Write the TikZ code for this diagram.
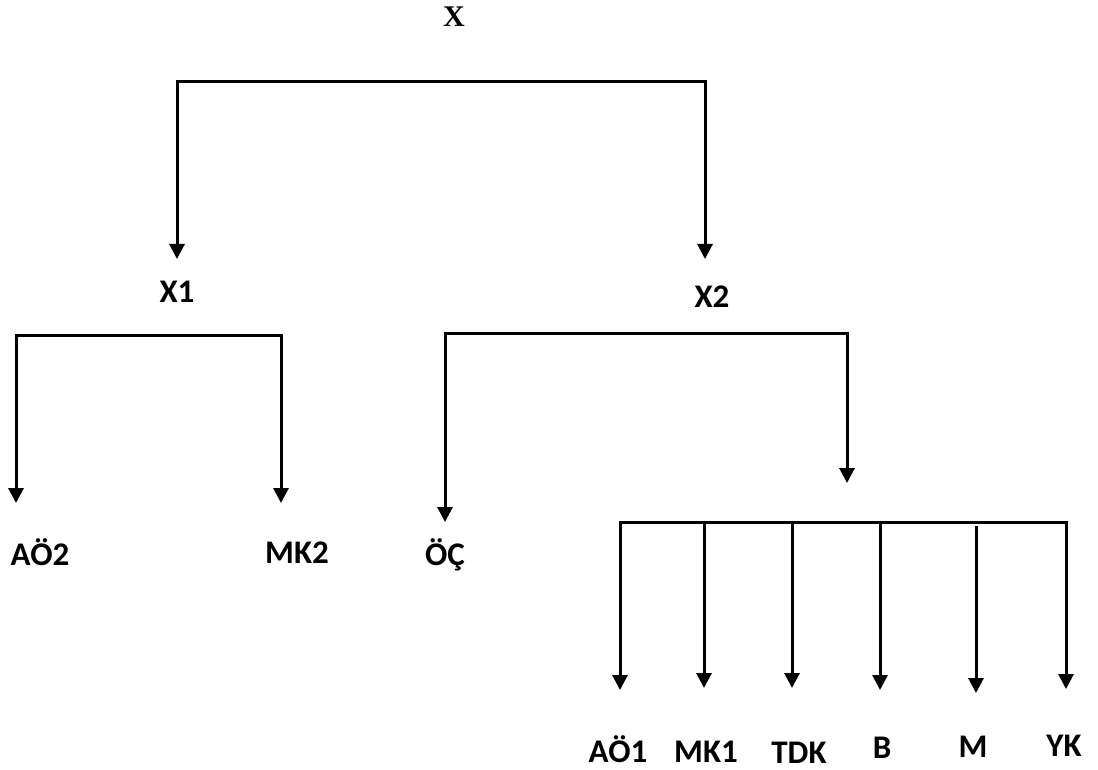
\documentclass[tikz,border=0pt]{standalone}
\usepackage{fontspec}
\newfontfamily\lblfont{Carlito}[UprightFont={* Bold}]
\newfontfamily\serfont{Liberation Serif}[UprightFont={* Bold}]
\usetikzlibrary{arrows.meta}
\begin{document}
\begin{tikzpicture}[x=1pt,y=-1pt,
  conn/.style={line width=3pt, line join=miter, line cap=butt},
  arr/.style={conn,-{Triangle[width=15pt,length=15pt]}},
  barr/.style={conn,{Triangle[width=15pt,length=15pt]}-{Triangle[width=15pt,length=15pt]}},
  lbl/.style={font=\fontsize{33}{40}\lblfont, anchor=base, inner sep=0pt},
  serlbl/.style={font=\fontsize{30}{36}\serfont, anchor=base, inner sep=0pt},
]
\useasboundingbox (0,0) rectangle (1098,770);

% labels
\node[serlbl] (X)   at (454,27)  {X};
\node[lbl] (X1)  at (177,302) {X1};
\node[lbl] (X2)  at (712,307) {X2};
\node[lbl] (AO2) at (40,565)  {AÖ2};
\node[lbl] (MK2) at (297,563) {MK2};
\node[lbl] (OC)  at (445,565) {ÖÇ};
\node[lbl] (AO1) at (618,762) {AÖ1};
\node[lbl] (MK1) at (706,762) {MK1};
\node[lbl] (TDK) at (799,763) {TDK};
\node[lbl] (B)   at (882,758) {B};
\node[lbl] (M)   at (973,757) {M};
\node[lbl] (YK)  at (1064,756) {YK};

% top bracket
\coordinate (tL) at (177,82);
\coordinate (tR) at (705,82);
\coordinate (tX1) at (177,259);
\coordinate (tX2) at (705,259);
\draw[barr] (tX1) -- (tL) -- (tR) -- (tX2);

% X1 bracket
\coordinate (aL) at (16,335);
\coordinate (aR) at (281,335);
\coordinate (tAO2) at (16,503);
\coordinate (tMK2) at (281,503);
\draw[barr] (tAO2) -- (aL) -- (aR) -- (tMK2);

% X2 bracket
\coordinate (bL) at (445,333);
\coordinate (bR) at (847,333);
\coordinate (tOC) at (445,522);
\coordinate (tGrp) at (847,483);
\draw[barr] (tOC) -- (bL) -- (bR) -- (tGrp);

% bottom bracket
\coordinate (cL) at (620,522);
\coordinate (cR) at (1066,522);
\coordinate (tAO1) at (620,690);
\coordinate (tYK) at (1066,689);
\draw[barr] (tAO1) -- (cL) -- (cR) -- (tYK);
\coordinate (sMK1) at (704,522);
\coordinate (sTDK) at (792,522);
\coordinate (sB) at (880,522);
\coordinate (sM) at (976,526);
\coordinate (tMK1) at (704,688);
\coordinate (tTDK) at (792,688);
\coordinate (tB) at (880,690);
\coordinate (tM) at (976,693);
\draw[arr] (sMK1) -- (tMK1);
\draw[arr] (sTDK) -- (tTDK);
\draw[arr] (sB) -- (tB);
\draw[arr] (sM) -- (tM);
\end{tikzpicture}
\end{document}
